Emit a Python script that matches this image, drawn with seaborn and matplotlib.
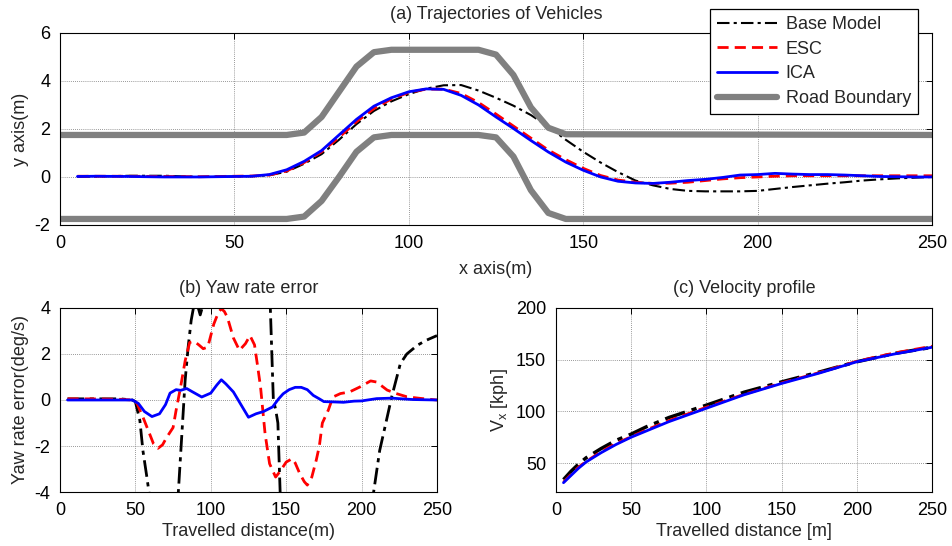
import matplotlib
matplotlib.use("Agg")
import matplotlib.pyplot as plt
import seaborn as sns

# ---------------- (a) trajectories ----------------
x_traj = [5, 10, 20, 30, 40, 50, 55, 60, 65, 70, 75, 80, 85, 90, 95, 100, 105, 110,
          115, 120, 125, 130, 135, 140, 145, 150, 155, 160, 165, 170, 175, 180, 185,
          190, 195, 200, 205, 210, 215, 220, 225, 230, 235, 240, 245, 250]
base_traj = [0.0, 0.02, 0.05, 0.05, 0.0, 0.02, 0.03, 0.07, 0.22, 0.55, 0.95, 1.55, 2.2,
             2.75, 3.15, 3.45, 3.68, 3.82, 3.83, 3.6, 3.3, 2.97, 2.58, 2.1, 1.55, 1.05,
             0.6, 0.2, -0.15, -0.35, -0.5, -0.58, -0.6, -0.6, -0.6, -0.58, -0.5, -0.42,
             -0.35, -0.28, -0.22, -0.15, -0.1, -0.06, -0.03, 0.0]
esc_traj = [0.03, 0.03, 0.03, 0.02, 0.01, 0.03, 0.04, 0.08, 0.25, 0.6, 1.05, 1.65, 2.3,
            2.85, 3.25, 3.52, 3.66, 3.66, 3.48, 3.1, 2.62, 2.12, 1.62, 1.12, 0.72, 0.36,
            0.06, -0.13, -0.22, -0.27, -0.26, -0.22, -0.15, -0.08, -0.03, 0.0, 0.03,
            0.05, 0.05, 0.05, 0.05, 0.05, 0.05, 0.05, 0.05, 0.05]
ica_traj = [0.02, 0.03, 0.02, 0.0, 0.0, 0.02, 0.03, 0.1, 0.3, 0.65, 1.1, 1.75, 2.4, 2.95,
            3.3, 3.55, 3.67, 3.65, 3.4, 3.0, 2.5, 2.02, 1.52, 1.04, 0.62, 0.28, 0.0,
            -0.18, -0.25, -0.27, -0.22, -0.15, -0.1, -0.02, 0.08, 0.1, 0.15, 0.12, 0.1,
            0.1, 0.08, 0.05, 0.02, 0.01, 0.0, 0.0]

x_road = [0, 65, 70, 75, 80, 85, 90, 95, 120, 125, 130, 135, 140, 145, 250]
road_lower = [-1.75, -1.75, -1.65, -1.0, 0.0, 1.05, 1.65, 1.75, 1.75, 1.65, 0.85, -0.55,
              -1.5, -1.75, -1.75]
road_upper = [1.75, 1.75, 1.85, 2.5, 3.55, 4.6, 5.2, 5.3, 5.3, 5.1, 4.25, 2.9, 2.05,
              1.78, 1.75]

# ---------------- (b) yaw rate error ----------------
x_yaw_base = [5, 20, 40, 48, 50, 53, 55, 57.5, 59, 61, 70, 76, 78.5, 81, 83, 85, 87,
              88.5, 90, 93, 96, 100, 120, 135, 139.5, 140.5, 141.5, 143, 144.5, 146,
              148, 160, 190, 205, 208, 212, 217, 220, 225.7, 230, 237, 243, 250]
yaw_base = [0.05, 0.05, 0.05, 0.0, -0.07, -0.9, -2.2, -3.3, -4.0, -5.5, -8.0, -5.5, -4.0,
            -1.3, 0.85, 2.3, 3.46, 4.0, 4.4, 3.7, 4.4, 8.0, 10.0, 8.0, 4.0, 2.0, 0.0,
            -0.4, -1.0, -4.0, -6.0, -9.0, -9.0, -5.5, -4.0, -2.2, -0.74, 0.14, 1.58,
            2.0, 2.38, 2.6, 2.8]

x_yaw_esc = [5, 20, 40, 48, 51, 55, 59, 62, 65, 68, 71, 75, 77, 80, 83, 86, 89, 92, 95,
             98, 102, 105, 107, 109, 111, 115, 119, 123, 126, 129, 131, 133, 136, 139,
             143, 146, 150, 154, 156, 159, 162, 164, 167, 170, 172, 174, 178, 181, 186,
             192, 199, 206, 210, 217, 223, 230, 239, 250]
yaw_esc = [0.05, 0.05, 0.03, 0.0, -0.14, -0.74, -1.4, -1.9, -2.1, -1.95, -1.6, -1.2,
           -0.45, 0.57, 1.7, 2.5, 2.55, 2.4, 2.23, 2.3, 3.3, 3.8, 3.97, 3.85, 3.6, 2.7,
           2.16, 2.45, 2.8, 2.4, 1.5, 0.57, -1.46, -2.77, -3.35, -3.1, -2.7, -2.55, -2.74,
           -3.2, -3.55, -3.7, -3.35, -2.6, -2.0, -1.0, -0.43, 0.13, 0.28, 0.35, 0.57,
           0.83, 0.78, 0.43, 0.28, 0.14, 0.07, 0.0]

x_yaw_ica = [5, 20, 40, 48, 52, 56, 61, 66, 70, 73, 77, 80, 84, 88, 94, 100, 104, 107,
             110, 115, 120, 125, 130, 135, 141, 145, 148, 152, 156, 160, 164, 168, 172,
             175, 180, 188, 195, 200, 210, 220, 234, 250]
yaw_ica = [0.0, 0.0, 0.0, 0.0, -0.15, -0.5, -0.72, -0.6, -0.2, 0.3, 0.45, 0.42, 0.5,
           0.35, 0.13, 0.3, 0.65, 0.88, 0.7, 0.35, -0.2, -0.75, -0.6, -0.5, -0.3, 0.05,
           0.27, 0.45, 0.55, 0.55, 0.45, 0.2, 0.05, -0.07, -0.08, -0.1, -0.05, -0.04,
           0.06, 0.08, 0.02, 0.0]

# ---------------- (c) velocity profile ----------------
x_vel = [5, 10, 15, 20, 30, 40, 50, 60, 75, 100, 125, 150, 175, 200, 225, 250]
base_vel = [34, 42, 49, 55, 64, 72, 78, 85, 94, 106, 118.5, 128.5, 138, 148, 156, 162]
esc_vel = [31.5, 39, 46, 51.5, 61, 69, 75.5, 82, 91, 104, 116.5, 127.5, 137.5, 148.5,
           156.5, 163]
ica_vel = [31, 38, 45, 51, 60, 68, 75, 81, 90, 103, 116, 127, 137, 148, 155.5, 162]

series_names = ["Base Model", "ESC", "ICA", "Road Boundary"]

sns.set_style("white")
plt.rcParams["font.family"] = ["Liberation Sans", "DejaVu Sans"]
plt.rcParams["font.size"] = 13
plt.rcParams["axes.unicode_minus"] = False
plt.rcParams["mathtext.fontset"] = "custom"
plt.rcParams["mathtext.rm"] = "Liberation Sans"
plt.rcParams["mathtext.it"] = "Liberation Sans"

fig = plt.figure(figsize=(9.52, 5.46), dpi=100)
ax_a = fig.add_axes([0.063, 0.588, 0.916, 0.3516])
ax_b = fig.add_axes([0.063, 0.0989, 0.396, 0.337])
ax_c = fig.add_axes([0.584, 0.0989, 0.395, 0.337])

BLACK = "black"
RED = "#ff0000"
BLUE = "#0000ff"
GRAY = "#808080"
dashdot = (0, (6, 2, 1.5, 2))
dashed = (0, (4, 2.2))


def style_axes(ax):
    ax.grid(True, color="#777777", linestyle=(0, (1, 1.5)), linewidth=0.6)
    for s in ax.spines.values():
        s.set_color("black")
        s.set_linewidth(0.8)
    ax.tick_params(direction="in", length=4, width=0.7, top=True, right=True,
                   labelsize=13, pad=7, colors="black")
    ax.set_facecolor("white")


# (a)
sns.lineplot(x=x_traj, y=base_traj, ax=ax_a, color=BLACK, linestyle=dashdot, lw=1.5,
             sort=False, estimator=None, label=series_names[0])
sns.lineplot(x=x_traj, y=esc_traj, ax=ax_a, color=RED, linestyle=dashed, lw=2.0,
             sort=False, estimator=None, label=series_names[1])
sns.lineplot(x=x_traj, y=ica_traj, ax=ax_a, color=BLUE, lw=2.0,
             sort=False, estimator=None, label=series_names[2])
sns.lineplot(x=x_road, y=road_upper, ax=ax_a, color=GRAY, lw=4.5,
             sort=False, estimator=None, label=series_names[3])
sns.lineplot(x=x_road, y=road_lower, ax=ax_a, color=GRAY, lw=4.5,
             sort=False, estimator=None)
ax_a.set_xlim(0, 250)
ax_a.set_ylim(-2, 6)
ax_a.set_xticks([0, 50, 100, 150, 200, 250])
ax_a.set_yticks([-2, 0, 2, 4, 6])
ax_a.set_xlabel("x axis(m)", fontsize=13, labelpad=7)
ax_a.set_ylabel("y axis(m)", fontsize=13, labelpad=4)
ax_a.set_title("(a) Trajectories of Vehicles", fontsize=13, pad=10)
style_axes(ax_a)
handles, labels = ax_a.get_legend_handles_labels()
if ax_a.get_legend() is not None:
    ax_a.get_legend().remove()
leg = fig.legend(handles, labels, loc="upper right",
                 bbox_to_anchor=(918 / 952, 1 - 9 / 546), borderaxespad=0,
                 fontsize=13, frameon=True, fancybox=False, edgecolor="black",
                 framealpha=1, handlelength=3.3, handletextpad=0.5, borderpad=0.4,
                 labelspacing=0.42)
leg.get_frame().set_linewidth(0.9)

# (b)
sns.lineplot(x=x_yaw_base, y=yaw_base, ax=ax_b, color=BLACK, linestyle=dashdot, lw=2.0,
             sort=False, estimator=None)
sns.lineplot(x=x_yaw_esc, y=yaw_esc, ax=ax_b, color=RED, linestyle=dashed, lw=2.0,
             sort=False, estimator=None)
sns.lineplot(x=x_yaw_ica, y=yaw_ica, ax=ax_b, color=BLUE, lw=2.0,
             sort=False, estimator=None)
ax_b.set_xlim(0, 250)
ax_b.set_ylim(-4, 4)
ax_b.set_xticks([0, 50, 100, 150, 200, 250])
ax_b.set_yticks([-4, -2, 0, 2, 4])
ax_b.set_xlabel("Travelled distance(m)", fontsize=13, labelpad=3)
ax_b.set_ylabel("Yaw rate error(deg/s)", fontsize=13, labelpad=4)
ax_b.set_title("(b) Yaw rate error", fontsize=13, pad=11)
style_axes(ax_b)

# (c)
sns.lineplot(x=x_vel, y=base_vel, ax=ax_c, color=BLACK, linestyle=dashdot, lw=2.5,
             sort=False, estimator=None)
sns.lineplot(x=x_vel, y=esc_vel, ax=ax_c, color=RED, linestyle=dashed, lw=2.0,
             sort=False, estimator=None)
sns.lineplot(x=x_vel, y=ica_vel, ax=ax_c, color=BLUE, lw=2.0,
             sort=False, estimator=None)
ax_c.set_xlim(0, 250)
ax_c.set_ylim(22, 200)
ax_c.set_xticks([0, 50, 100, 150, 200, 250])
ax_c.set_yticks([50, 100, 150, 200])
ax_c.set_xlabel("Travelled distance [m]", fontsize=13, labelpad=3)
ax_c.set_ylabel("V$_x$ [kph]", fontsize=13, labelpad=4)
ax_c.set_title("(c) Velocity profile", fontsize=13, pad=11)
style_axes(ax_c)

fig.savefig("out.png", dpi=100, facecolor="white")
